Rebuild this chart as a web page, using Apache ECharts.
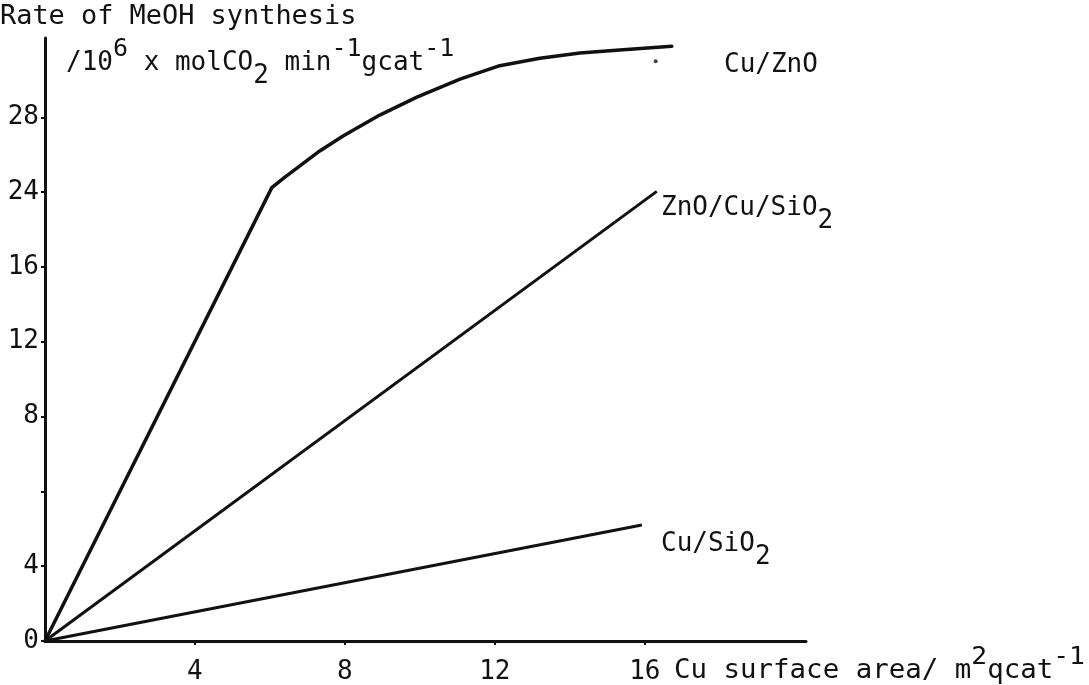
<!DOCTYPE html>
<html>
<head>
<meta charset="utf-8">
<script src="https://cdn.jsdelivr.net/npm/echarts@6/dist/echarts.min.js"></script>
<style>
html,body{margin:0;padding:0;background:#fff;}
#chart{width:1089px;height:685px;}
</style>
</head>
<body>
<div id="chart"></div>
<script>
// Y axis is drawn with evenly spaced ticks carrying the (irregular) printed labels;
// y values below are in tick-position units.
const yTickLabels = ['0', '4', '', '8', '12', '16', '24', '28'];
const xTickValues = [4, 8, 12, 16];

// Cu surface area (m2 gcat-1) vs rate (tick-position units)
const cuZnO_x = [0, 6.05, 6.40, 6.72, 7.33, 7.95, 8.93, 9.92, 11.07, 12.13, 13.20, 14.27, 15.33, 16.72];
const cuZnO_y = [0, 6.06, 6.20, 6.32, 6.55, 6.75, 7.03, 7.27, 7.51, 7.69, 7.79, 7.86, 7.90, 7.95];

const znoCuSiO2_x = [0, 16.32];
const znoCuSiO2_y = [0, 6.01];

const cuSiO2_x = [0, 15.92];
const cuSiO2_y = [0, 1.55];

const strayDot = [[16.29, 7.75]];

const FONT = 'DejaVu Sans Mono';
const INK = '#111';

function pairs(xs, ys) { return xs.map((x, i) => [x, ys[i]]); }

const chart = echarts.init(document.getElementById('chart'), null, {renderer: 'canvas'});

const rich = {
  n:   {fontFamily: FONT, fontSize: 26, color: INK, lineHeight: 52, verticalAlign: 'middle'},
  sup: {fontFamily: FONT, fontSize: 25, color: INK, lineHeight: 26, verticalAlign: 'top'},
  sub: {fontFamily: FONT, fontSize: 26, color: INK, lineHeight: 26, verticalAlign: 'bottom'}
};

function txt(x, y, text, sx) {
  return {
    type: 'text', x: x, y: y, silent: true, scaleX: sx || 1,
    style: {text: text, rich: rich, fontFamily: FONT, fontSize: 26, fill: INK,
            align: 'left', verticalAlign: 'middle'}
  };
}

chart.setOption({
  animation: false,
  backgroundColor: '#fff',
  grid: {left: 45, top: 38, width: 761, height: 603, containLabel: false},
  xAxis: {
    type: 'value', min: 0, max: 20.3, interval: 4,
    axisLine: {show: true, onZero: false, lineStyle: {color: INK, width: 3}},
    axisTick: {show: true, length: 4, customValues: xTickValues, lineStyle: {color: INK, width: 2}},
    axisLabel: {
      show: true, margin: 18, customValues: xTickValues,
      fontFamily: FONT, fontSize: 26, color: INK,
      formatter: v => (xTickValues.indexOf(v) >= 0 ? String(v) : '')
    },
    splitLine: {show: false}
  },
  yAxis: {
    type: 'value', min: 0, max: 8.06, interval: 1,
    axisLine: {show: true, onZero: false, lineStyle: {color: INK, width: 3}},
    axisTick: {show: true, length: 4, customValues: [0,1,2,3,4,5,6,7], lineStyle: {color: INK, width: 2}},
    axisLabel: {
      show: true, margin: 6, customValues: [0,1,3,4,5,6,7],
      fontFamily: FONT, fontSize: 26, color: INK,
      formatter: v => (Number.isInteger(v) && yTickLabels[v] !== undefined ? yTickLabels[v] : '')
    },
    splitLine: {show: false}
  },
  series: [
    {
      name: 'Cu/ZnO', type: 'line', data: pairs(cuZnO_x, cuZnO_y),
      showSymbol: false, smooth: false,
      lineStyle: {color: INK, width: 3.5, join: 'round', cap: 'round'}
    },
    {
      name: 'ZnO/Cu/SiO2', type: 'line', data: pairs(znoCuSiO2_x, znoCuSiO2_y),
      showSymbol: false, lineStyle: {color: INK, width: 3}
    },
    {
      name: 'Cu/SiO2', type: 'line', data: pairs(cuSiO2_x, cuSiO2_y),
      showSymbol: false, lineStyle: {color: INK, width: 3}
    },
    {
      type: 'scatter', data: strayDot, symbolSize: 4,
      itemStyle: {color: INK}
    }
  ],
  graphic: [
    {type: 'text', x: 0, y: 17, silent: true, scaleX: 1.035,
     style: {text: 'Rate of MeOH synthesis', fontFamily: FONT, fontSize: 26, fill: INK,
             align: 'left', verticalAlign: 'middle'}},
    txt(66, 63, '{n|/10}{sup|6}{n| x molCO}{sub|2}{n| min}{sup|-1}{n|gcat}{sup|-1}'),
    txt(724, 65, '{n|Cu/ZnO}'),
    txt(661, 208, '{n|ZnO/Cu/SiO}{sub|2}'),
    txt(661, 544, '{n|Cu/SiO}{sub|2}'),
    txt(674, 671, '{n|Cu surface area/ m}{sup|2}{n|qcat}{sup|-1}', 1.055)
  ]
});
</script>
</body>
</html>
